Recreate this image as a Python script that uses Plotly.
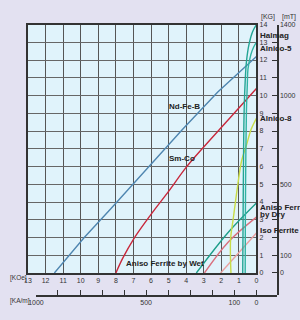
import plotly.graph_objects as go

# ---------------- data (H in kOe, B in kG) ----------------
nd_H = [11.5, 9.8, 8.3, 6.0, 4.2, 2.2, 0.0]
nd_B = [0.0, 2.0, 3.6, 6.1, 8.1, 10.2, 12.2]

sm_H = [8.0, 7.6, 7.0, 6.0, 5.0, 4.0, 3.0, 2.0, 1.0, 0.0]
sm_B = [0.0, 0.85, 1.9, 3.3, 4.6, 5.95, 7.1, 8.2, 9.3, 10.4]

halmag_H = [0.78, 0.76, 0.73, 0.70, 0.64, 0.57, 0.42, 0.22, 0.0]
halmag_B = [0.0, 3.0, 7.0, 9.1, 10.8, 11.9, 12.9, 13.6, 14.0]

alnico5_H = [0.64, 0.63, 0.60, 0.57, 0.52, 0.48, 0.32, 0.15, 0.0]
alnico5_B = [0.0, 3.0, 7.0, 9.1, 10.6, 11.5, 12.3, 12.75, 13.0]

alnico8_H = [1.45, 1.47, 1.30, 1.10, 0.84, 0.57, 0.30, 0.0]
alnico8_B = [0.0, 1.9, 3.2, 4.7, 6.34, 7.2, 8.1, 8.72]

wet_H = [3.42, 1.6, 0.0]
wet_B = [0.0, 2.3, 3.95]

dry_H = [2.96, 1.6, 0.0]
dry_B = [0.0, 1.75, 3.15]

iso_H = [2.04, 0.0]
iso_B = [0.0, 2.25]

koe_ticks = list(range(0, 14))
kg_ticks = list(range(0, 15))
kam_ticks = list(range(0, 1001, 100))
kam_labels = ["0", "100", "", "", "", "500", "", "", "", "", "1000"]
mt_ticks = list(range(0, 1401, 100))
mt_labels = ["0", "100", "", "", "", "500", "", "", "", "", "1000", "", "", "", "1400"]

# ---------------- figure ----------------
W, Hh = 300, 320
px = lambda v: v / W
py = lambda v: 1 - v / Hh

fig = go.Figure()

curves = [
    (nd_H, nd_B, "#4f86b0", "linear"),
    (sm_H, sm_B, "#c8283c", "spline"),
    (iso_H, iso_B, "#e8a0a0", "linear"),
    (dry_H, dry_B, "#d9707e", "spline"),
    (wet_H, wet_B, "#1e9e8a", "spline"),
    (alnico8_H, alnico8_B, "#c8dc48", "spline"),
    (alnico5_H, alnico5_B, "#2fb3a3", "spline"),
    (halmag_H, halmag_B, "#23a595", "spline"),
]
for h, b, c, shp in curves:
    fig.add_trace(go.Scatter(x=h, y=b, mode="lines",
                             line=dict(color=c, width=1.4, shape=shp),
                             showlegend=False, hoverinfo="skip"))

# invisible traces registering secondary axes
fig.add_trace(go.Scatter(x=[None], y=[None], xaxis="x2", yaxis="y3",
                         showlegend=False, hoverinfo="skip"))
fig.add_trace(go.Scatter(x=[None], y=[None], xaxis="x3", yaxis="y2",
                         showlegend=False, hoverinfo="skip"))

tf = dict(family="Liberation Sans, Arial, sans-serif", size=7, color="#333")
tf_small = dict(family="Liberation Sans Narrow, Liberation Sans, Arial, sans-serif",
                size=6.5, color="#333")

fig.update_layout(
    width=W, height=Hh,
    margin=dict(l=0, r=0, t=0, b=0),
    paper_bgcolor="#e3e1f1",
    plot_bgcolor="#e0f3fb",
    showlegend=False,
    xaxis=dict(domain=[px(20.7), px(257)], range=[13, 0], anchor="y",
               tickvals=koe_ticks, ticks="", showgrid=True,
               gridcolor="#555", gridwidth=1.2, zeroline=False,
               showline=True, mirror=True, linecolor="#333", linewidth=1.5,
               tickfont=tf, fixedrange=True),
    yaxis=dict(domain=[py(275), py(21)], range=[0, 14], anchor="x",
               side="right", tickvals=kg_ticks, ticks="", showgrid=True,
               gridcolor="#666", gridwidth=1.2, zeroline=False,
               showline=True, mirror=True, linecolor="#333", linewidth=1.5,
               tickfont=tf, fixedrange=True),
    xaxis2=dict(domain=[px(28.87), px(278)], range=[1000, -92.05],
                anchor="y3", side="bottom", tickvals=kam_ticks,
                ticktext=kam_labels, ticks="inside", ticklen=5,
                tickcolor="#333", showgrid=False, zeroline=False,
                showline=True, linecolor="#333", linewidth=1.5,
                tickfont=tf, fixedrange=True),
    yaxis3=dict(domain=[py(297.5), py(297.5) + 0.0005], range=[0, 1],
                visible=False, anchor="x2", fixedrange=True),
    yaxis2=dict(domain=[py(297.5), py(21)], range=[-124, 1400],
                anchor="x3", side="right", tickvals=mt_ticks,
                ticktext=mt_labels, ticks="inside", ticklen=5,
                tickcolor="#333", showgrid=False, zeroline=False,
                showline=True, linecolor="#333", linewidth=1.5,
                tickfont=tf, fixedrange=True),
    xaxis3=dict(domain=[px(278) - 0.0005, px(278)], range=[0, 1],
                visible=False, anchor="y2", fixedrange=True),
)

lab = dict(family="Liberation Sans, Arial, sans-serif", size=8, color="#222")
ann = []
def pa(text, x, y, xanchor="left", font=tf):
    ann.append(dict(text=text, x=px(x), y=py(y), xref="paper", yref="paper",
                    xanchor=xanchor, yanchor="middle", showarrow=False, font=font))

pa("[KOe]", 0, 280.5, font=tf_small)
pa("[KA/m]", 0, 303.5, font=tf_small)
pa("[KG]", 259.5, 13, font=tf)
pa("[mT]", 281, 13, font=tf)
pa("<b>Halmag</b>", 258.5, 32, font=lab)
pa("<b>Alnico-5</b>", 258.5, 45, font=lab)
pa("<b>Alnico-8</b>", 258.5, 117, font=lab)
pa("<b>Aniso Ferrite</b>", 258.5, 208.5, font=lab)
pa("<b>by Dry</b>", 258.5, 215, font=lab)
pa("<b>Iso Ferrite</b>", 258.5, 232, font=lab)

for t, h, b in [("<b>Nd-Fe-B</b>", 4.08, 9.37), ("<b>Sm-Co</b>", 4.24, 6.45),
                ("<b>Aniso Ferrite by Wet</b>", 5.18, 0.55)]:
    ann.append(dict(text=t, x=h, y=b, xref="x", yref="y", showarrow=False,
                    xanchor="center", yanchor="middle", font=lab))

fig.update_layout(annotations=ann)
fig.write_html("out.html")
